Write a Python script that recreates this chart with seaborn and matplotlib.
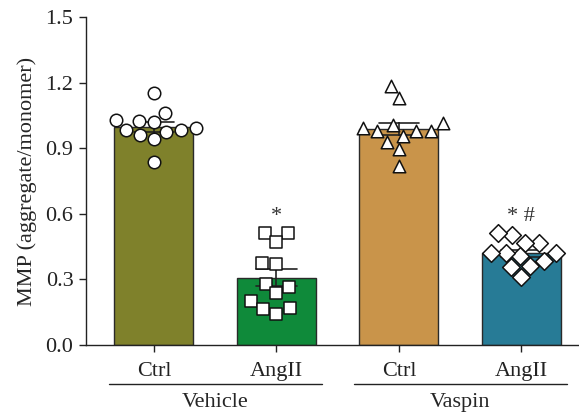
import pandas as pd
import seaborn as sns
import matplotlib.pyplot as plt
import matplotlib.transforms as mtransforms

# ---- data ----
conditions = ["Vehicle Ctrl", "Vehicle AngII", "Vaspin Ctrl", "Vaspin AngII"]
tick_labels = ["Ctrl", "AngII", "Ctrl", "AngII"]
groups = ["Vehicle", "Vaspin"]

vehicle_ctrl = [1.151, 1.059, 1.029, 1.026, 1.018, 0.991, 0.983, 0.983, 0.975, 0.960, 0.940, 0.838]
vehicle_angii = [0.511, 0.511, 0.472, 0.374, 0.369, 0.279, 0.267, 0.236, 0.203, 0.168, 0.163, 0.142]
vaspin_ctrl = [1.184, 1.131, 1.006, 1.016, 0.991, 0.980, 0.980, 0.980, 0.957, 0.930, 0.895, 0.818]
vaspin_angii = [0.503, 0.511, 0.468, 0.468, 0.422, 0.407, 0.419, 0.419, 0.385, 0.355, 0.361, 0.310]

significance = ["", "*", "", "* #"]

bar_colors = ["#7f812b", "#0f8a3a", "#c9944a", "#277b96"]
markers = ["o", "s", "^", "D"]

# ---- style ----
sns.set_theme(style="ticks")
plt.rcParams["font.family"] = ["Liberation Serif", "DejaVu Serif"]
FS = 16

values = [vehicle_ctrl, vehicle_angii, vaspin_ctrl, vaspin_angii]
df = pd.DataFrame({
    "cond": [c for c, v in zip(conditions, values) for _ in v],
    "mmp": [x for v in values for x in v],
})

fig = plt.figure(figsize=(5.79, 4.17), dpi=100)
ax = fig.add_axes([0.1485, 0.1727, 0.8515, 0.7866])

sns.barplot(data=df, x="cond", y="mmp", order=conditions, hue="cond",
            hue_order=conditions, palette=bar_colors, saturation=1,
            legend=False, errorbar="se", capsize=0.33, width=0.645,
            edgecolor="#2a2a2a", linewidth=1.0,
            err_kws={"color": "#222222", "linewidth": 1.2}, ax=ax)

# individual points, one marker per condition
for cond, mk in zip(conditions, markers):
    sub = df[df["cond"] == cond]
    sns.swarmplot(data=sub, x="cond", y="mmp", order=conditions, marker=mk,
                  color="white", edgecolor="#111111", linewidth=1.1,
                  size=9, ax=ax, warn_thresh=1.0, zorder=4)

# significance marks
for i, (cond, mark) in enumerate(zip(conditions, significance)):
    if mark:
        top = max(df.loc[df["cond"] == cond, "mmp"])
        ax.text(i, top + 0.075, mark, ha="center", va="center",
                fontsize=FS, color="#333333")

ax.set_xlim(-0.555, 3.47)
ax.set_ylim(0, 1.5)
ax.set_yticks([0.0, 0.3, 0.6, 0.9, 1.2, 1.5])
ax.set_yticklabels(["0.0", "0.3", "0.6", "0.9", "1.2", "1.5"])
ax.set_xticks(range(len(conditions)))
ax.set_xticklabels(tick_labels)
ax.set_xlabel("")
ax.set_ylabel("MMP (aggregate/monomer)", fontsize=FS, labelpad=6)
ax.tick_params(axis="both", direction="out", length=5, width=1,
               colors="#222222", labelsize=FS, pad=4)
ax.tick_params(axis="x", pad=7)
for s in ["top", "right"]:
    ax.spines[s].set_visible(False)
for s in ["left", "bottom"]:
    ax.spines[s].set_linewidth(1.0)
    ax.spines[s].set_color("#222222")

# group brackets under the tick labels
trans = mtransforms.blended_transform_factory(ax.transData, ax.transAxes)
for g, name in enumerate(groups):
    center = 2 * g + 0.5
    ax.plot([center - 0.87, center + 0.87], [-0.119, -0.119], color="#222222",
            lw=1.0, transform=trans, clip_on=False)
    ax.text(center, -0.174, name, ha="center", va="center", fontsize=FS,
            transform=trans)

fig.savefig("out.png", dpi=100)
